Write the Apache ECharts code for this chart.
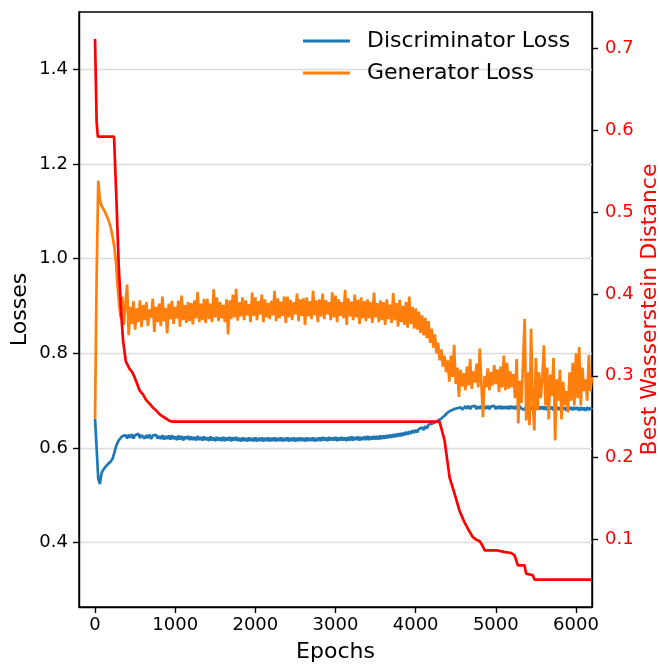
<!DOCTYPE html>
<html>
<head>
<meta charset="utf-8">
<script src="https://cdn.jsdelivr.net/npm/echarts@6/dist/echarts.min.js"></script>
<style>
html,body{margin:0;padding:0;background:#fff;}
#chart{width:660px;height:664px;}
</style>
</head>
<body>
<div id="chart"></div>
<script>
// ---- data ----
const lossStep = 20; // epochs between loss samples
const discLoss = [
0.662,0.600,0.535,0.524,0.546,0.553,0.558,0.561,0.566,0.569,
0.572,0.578,0.589,0.602,0.611,0.617,0.621,0.625,0.622,0.627,
0.620,0.628,0.622,0.629,0.620,0.627,0.623,0.630,0.621,0.627,
0.629,0.620,0.627,0.621,0.628,0.619,0.626,0.622,0.628,0.620,
0.625,0.619,0.627,0.618,0.625,0.619,0.626,0.618,0.627,0.619,
0.624,0.617,0.626,0.618,0.625,0.616,0.624,0.619,0.625,0.617,
0.624,0.617,0.623,0.616,0.625,0.617,0.623,0.616,0.624,0.617,
0.622,0.615,0.624,0.616,0.622,0.615,0.623,0.616,0.622,0.615,
0.623,0.615,0.622,0.616,0.623,0.614,0.622,0.616,0.623,0.615,
0.621,0.614,0.622,0.615,0.621,0.614,0.622,0.615,0.621,0.614,
0.622,0.614,0.621,0.615,0.622,0.614,0.621,0.615,0.622,0.614,
0.621,0.615,0.622,0.614,0.621,0.615,0.622,0.614,0.621,0.615,
0.622,0.614,0.621,0.615,0.622,0.614,0.621,0.615,0.622,0.615,
0.621,0.614,0.622,0.615,0.621,0.615,0.622,0.614,0.621,0.615,
0.622,0.615,0.623,0.616,0.622,0.615,0.623,0.616,0.622,0.616,
0.623,0.615,0.622,0.616,0.623,0.616,0.622,0.615,0.623,0.616,
0.624,0.616,0.623,0.617,0.624,0.616,0.623,0.617,0.624,0.617,
0.625,0.617,0.624,0.618,0.625,0.618,0.625,0.618,0.626,0.619,
0.626,0.620,0.627,0.621,0.628,0.622,0.629,0.623,0.630,0.624,
0.631,0.625,0.632,0.627,0.634,0.628,0.635,0.630,0.637,0.632,
0.638,0.633,0.640,0.636,0.643,0.638,0.646,0.641,0.649,0.645,
0.651,0.648,0.654,0.652,0.658,0.656,0.662,0.662,0.668,0.669,
0.675,0.673,0.679,0.676,0.682,0.678,0.684,0.680,0.686,0.681,
0.682,0.688,0.683,0.689,0.682,0.688,0.684,0.689,0.682,0.688,
0.683,0.689,0.682,0.688,0.683,0.689,0.682,0.688,0.684,0.689,
0.682,0.688,0.683,0.689,0.682,0.688,0.683,0.688,0.682,0.689,
0.683,0.688,0.682,0.689,0.681,0.688,0.683,0.687,0.681,0.688,
0.682,0.688,0.681,0.687,0.683,0.688,0.681,0.687,0.682,0.688,
0.681,0.687,0.680,0.688,0.682,0.687,0.680,0.687,0.681,0.686,
0.680,0.687,0.681,0.686,0.679,0.687,0.681,0.686,0.680,0.686,
0.681,0.686,0.679,0.686,0.680,0.685,0.679,0.686,0.680,0.685,
0.681
];
const genLoss = [
0.662,0.960,1.165,1.125,1.112,1.106,1.100,1.092,1.085,1.075,
1.062,1.045,1.025,0.995,0.945,0.905,0.875,0.920,0.860,0.905,
0.945,0.838,0.898,0.862,0.910,0.850,0.895,0.866,0.912,0.855,
0.902,0.870,0.908,0.858,0.893,0.875,0.915,0.845,0.898,0.866,
0.905,0.858,0.920,0.868,0.896,0.842,0.905,0.872,0.911,0.862,
0.898,0.874,0.911,0.856,0.922,0.870,0.902,0.864,0.908,0.868,
0.906,0.861,0.912,0.874,0.930,0.866,0.905,0.870,0.915,0.864,
0.915,0.872,0.905,0.866,0.935,0.876,0.918,0.868,0.908,0.874,
0.902,0.866,0.914,0.840,0.912,0.872,0.924,0.876,0.936,0.869,
0.908,0.878,0.918,0.870,0.912,0.880,0.904,0.866,0.928,0.879,
0.918,0.870,0.910,0.882,0.924,0.866,0.914,0.876,0.906,0.872,
0.911,0.880,0.932,0.868,0.916,0.874,0.909,0.879,0.920,0.864,
0.920,0.876,0.913,0.870,0.908,0.882,0.926,0.868,0.914,0.879,
0.916,0.860,0.918,0.878,0.910,0.872,0.932,0.880,0.912,0.866,
0.914,0.878,0.926,0.872,0.912,0.882,0.908,0.870,0.929,0.876,
0.922,0.866,0.914,0.879,0.908,0.874,0.934,0.860,0.916,0.878,
0.909,0.870,0.924,0.876,0.913,0.862,0.918,0.874,0.910,0.868,
0.914,0.874,0.908,0.864,0.928,0.876,0.906,0.866,0.912,0.870,
0.908,0.860,0.914,0.872,0.903,0.864,0.927,0.870,0.906,0.856,
0.913,0.866,0.900,0.860,0.908,0.854,0.920,0.862,0.898,0.852,
0.895,0.850,0.888,0.843,0.880,0.838,0.875,0.832,0.868,0.822,
0.852,0.812,0.840,0.800,0.822,0.785,0.808,0.772,0.795,0.760,
0.785,0.740,0.795,0.750,0.818,0.735,0.770,0.708,0.765,0.730,
0.758,0.722,0.772,0.732,0.788,0.725,0.762,0.738,0.778,0.728,
0.810,0.735,0.665,0.752,0.728,0.768,0.722,0.760,0.732,0.775,
0.735,0.766,0.718,0.772,0.728,0.795,0.722,0.780,0.725,0.762,
0.728,0.756,0.705,0.788,0.652,0.742,0.695,0.778,0.873,0.658,
0.760,0.648,0.852,0.700,0.637,0.790,0.680,0.760,0.705,0.745,
0.817,0.690,0.770,0.660,0.755,0.710,0.790,0.616,0.745,0.700,
0.765,0.660,0.740,0.690,0.720,0.675,0.760,0.700,0.780,0.690,
0.800,0.705,0.813,0.690,0.770,0.720,0.745,0.700,0.796,0.720,
0.750
];
const wdEpochs = [0,20,35,237,267,296,329,350,383,433,460,495,557,600,640,680,723,760,807,850,931,973,
  4298,4361,4423,4486,4548,4610,4660,4714,4755,4800,4838,4860,5006,5100,5192,5234,5275,5358,5379,5462,5483,6200];
const wdValues = [0.711,0.610,0.592,0.592,0.515,0.433,0.372,0.343,0.318,0.308,0.305,0.298,0.282,0.277,0.270,0.266,0.261,0.258,0.253,0.250,0.245,0.244,
  0.244,0.221,0.176,0.156,0.135,0.121,0.112,0.103,0.100,0.098,0.092,0.087,0.087,0.085,0.0837,0.0809,0.0687,0.0687,0.0585,0.0565,0.0512,0.0512];
const xTicks = [0,1000,2000,3000,4000,5000,6000];
const lossTicks = [0.4,0.6,0.8,1.0,1.2,1.4];
const wdTicks = [0.1,0.2,0.3,0.4,0.5,0.6,0.7];

// ---- build ----
const discPts = discLoss.map((v,i)=>[i*lossStep, v]);
const genPts = genLoss.map((v,i)=>[i*lossStep, v]);
const wdPts = wdEpochs.map((e,i)=>[e, wdValues[i]]);

const FONT = 'DejaVu Sans';
const chart = echarts.init(document.getElementById('chart'), null, {renderer:'canvas'});
chart.setOption({
  animation: false,
  backgroundColor: '#fff',
  textStyle: {fontFamily: FONT},
  grid: {left: 79, right: 68, top: 12, bottom: 57, containLabel: false, outerBoundsMode: 'none',
         show: true, borderColor: '#000', borderWidth: 1.4, backgroundColor: 'transparent'},
  legend: {
    orient: 'vertical', left: 303, top: 30, padding: 0,
    icon: 'rect', itemWidth: 47, itemHeight: 3, itemGap: 10,
    data: ['Discriminator Loss','Generator Loss'],
    textStyle: {fontFamily: FONT, fontSize: 22, color: '#000', padding: [0,0,0,12]}
  },
  xAxis: {
    type: 'value', min: -200, max: 6200,
    name: 'Epochs', nameLocation: 'middle', nameGap: 34, nameMoveOverlap: false,
    nameTextStyle: {fontFamily: FONT, fontSize: 22, color: '#000'},
    axisLine: {show: true, onZero: false, lineStyle: {color: '#000', width: 1.4}},
    axisTick: {show: true, length: 6, lineStyle: {color: '#000', width: 1.4}, customValues: xTicks},
    axisLabel: {fontFamily: FONT, fontSize: 18, color: '#000', margin: 9, customValues: xTicks, formatter: v => String(v)},
    splitLine: {show: false}
  },
  yAxis: [{
    type: 'value', min: 0.264, max: 1.521, position: 'left',
    name: 'Losses', nameLocation: 'middle', nameGap: 48, nameRotate: 90, nameMoveOverlap: false,
    nameTextStyle: {fontFamily: FONT, fontSize: 22, color: '#000'},
    axisLine: {show: true, onZero: false, lineStyle: {color: '#000', width: 1.4}},
    axisTick: {show: true, length: 6, lineStyle: {color: '#000', width: 1.4}, customValues: lossTicks},
    axisLabel: {fontFamily: FONT, fontSize: 18, color: '#000', margin: 11, customValues: lossTicks, formatter: v => v.toFixed(1)},
    splitLine: {show: true, lineStyle: {color: '#dcdcdc', width: 1.3}}
  },{
    type: 'value', min: 0.0178, max: 0.744, position: 'right',
    name: 'Best Wasserstein Distance', nameLocation: 'middle', nameGap: 47, nameRotate: 90, nameMoveOverlap: false,
    nameTextStyle: {fontFamily: FONT, fontSize: 22, color: '#ff0000'},
    axisLine: {show: true, onZero: false, lineStyle: {color: '#000', width: 1.4}},
    axisTick: {show: true, length: 6, lineStyle: {color: '#000', width: 1.4}, customValues: wdTicks},
    axisLabel: {fontFamily: FONT, fontSize: 18, color: '#ff0000', margin: 13, customValues: wdTicks, formatter: v => v.toFixed(1)},
    splitLine: {show: false}
  }],
  series: [{
    name: 'Discriminator Loss', type: 'line', data: discPts, yAxisIndex: 0,
    symbol: 'none', showSymbol: false, color: '#1f77b4',
    lineStyle: {color: '#1f77b4', width: 2.7}, z: 2
  },{
    name: 'Generator Loss', type: 'line', data: genPts, yAxisIndex: 0,
    symbol: 'none', showSymbol: false, color: '#ff7f0e',
    lineStyle: {color: '#ff7f0e', width: 2.7}, z: 3
  },{
    name: 'Best Wasserstein Distance', type: 'line', data: wdPts, yAxisIndex: 1,
    symbol: 'none', showSymbol: false, color: '#ff0000',
    lineStyle: {color: '#ff0000', width: 2.7}, z: 4
  }]
});
</script>
</body>
</html>
